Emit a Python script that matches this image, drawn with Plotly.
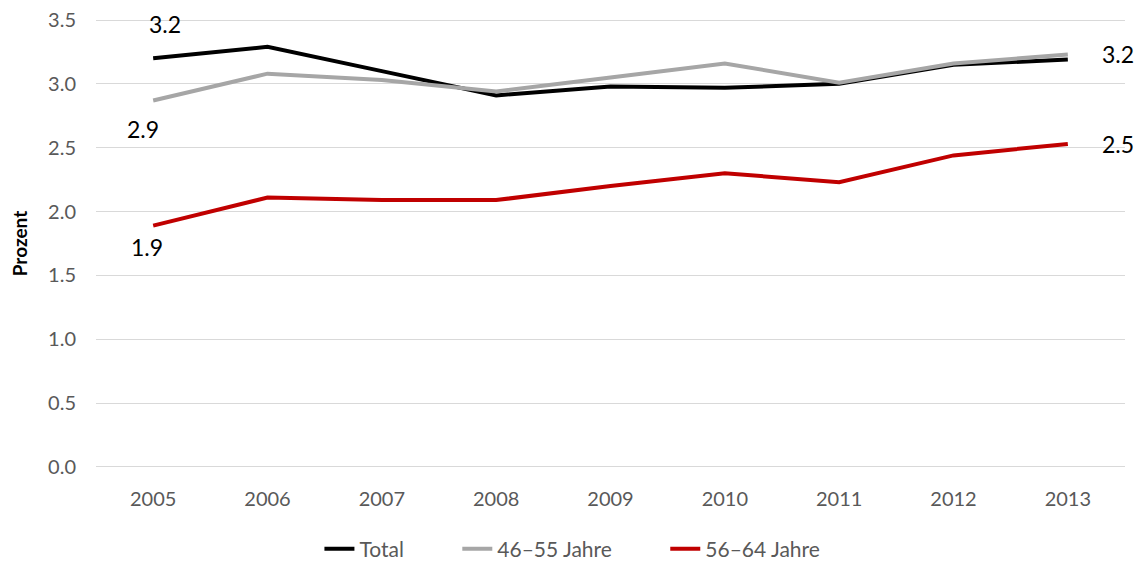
import plotly.graph_objects as go

years = ["2005", "2006", "2007", "2008", "2009", "2010", "2011", "2012", "2013"]
total = [3.20, 3.29, 3.10, 2.91, 2.98, 2.97, 3.00, 3.15, 3.19]
age_46_55 = [2.87, 3.08, 3.03, 2.94, 3.05, 3.16, 3.01, 3.16, 3.23]
age_56_64 = [1.89, 2.11, 2.09, 2.09, 2.20, 2.30, 2.23, 2.44, 2.53]
y_ticks = [0.0, 0.5, 1.0, 1.5, 2.0, 2.5, 3.0, 3.5]

font = "Lato, sans-serif"
pad = "&nbsp;" * 9

fig = go.Figure()
fig.add_trace(go.Scatter(x=years, y=total, mode="lines", name="Total" + pad,
                         line=dict(color="#000000", width=4)))
fig.add_trace(go.Scatter(x=years, y=age_46_55, mode="lines", name="46–55 Jahre" + pad,
                         line=dict(color="#A6A6A6", width=4)))
fig.add_trace(go.Scatter(x=years, y=age_56_64, mode="lines", name="56–64 Jahre",
                         line=dict(color="#C00000", width=4)))

# data labels (category axis -> use index positions)
lbl = dict(size=23, color="#000000", family=font)
first, last = 0, len(years) - 1
fig.add_annotation(x=first, y=total[first], text=f"{total[first]:.1f}", showarrow=False,
                   yshift=34, xshift=12, font=lbl)
fig.add_annotation(x=first, y=age_46_55[first], text=f"{age_46_55[first]:.1f}", showarrow=False,
                   yshift=-29, xshift=-10, font=lbl)
fig.add_annotation(x=first, y=age_56_64[first], text=f"{age_56_64[first]:.1f}", showarrow=False,
                   yshift=-21, xshift=-6, font=lbl)
fig.add_annotation(x=last, y=total[last], text=f"{total[last]:.1f}", showarrow=False,
                   xanchor="left", xshift=32, yshift=6, font=lbl)
fig.add_annotation(x=last, y=age_56_64[last], text=f"{age_56_64[last]:.1f}", showarrow=False,
                   xanchor="left", xshift=32, yshift=0, font=lbl)

fig.update_layout(
    width=1146, height=565,
    margin=dict(l=88, r=29, t=11, b=105, autoexpand=False),
    plot_bgcolor="white", paper_bgcolor="white",
    font=dict(family=font, size=20, color="#595959"),
    showlegend=True,
    legend=dict(orientation="h", x=0.463, xanchor="center", y=-0.135, yanchor="top",
                font=dict(size=21, color="#595959"), itemwidth=30, tracegroupgap=0),
)
fig.update_xaxes(type="category", range=[-0.5, 8.5], showgrid=False, zeroline=False,
                 showline=False, ticks="", ticklabelstandoff=17, automargin=False,
                 tickfont=dict(size=20, color="#595959"))
fig.update_yaxes(range=[-0.008, 3.508], tickvals=y_ticks, tickformat=".1f", showgrid=True,
                 gridcolor="#D9D9D9", gridwidth=1, zeroline=False, showline=False,
                 ticks="", ticklabelstandoff=19, automargin=False, ticklabeloverflow="allow",
                 tickfont=dict(size=20, color="#595959"),
                 title=dict(text="<b>Prozent</b>", font=dict(size=19, color="#000000"), standoff=18))

fig.write_html("out.html")
